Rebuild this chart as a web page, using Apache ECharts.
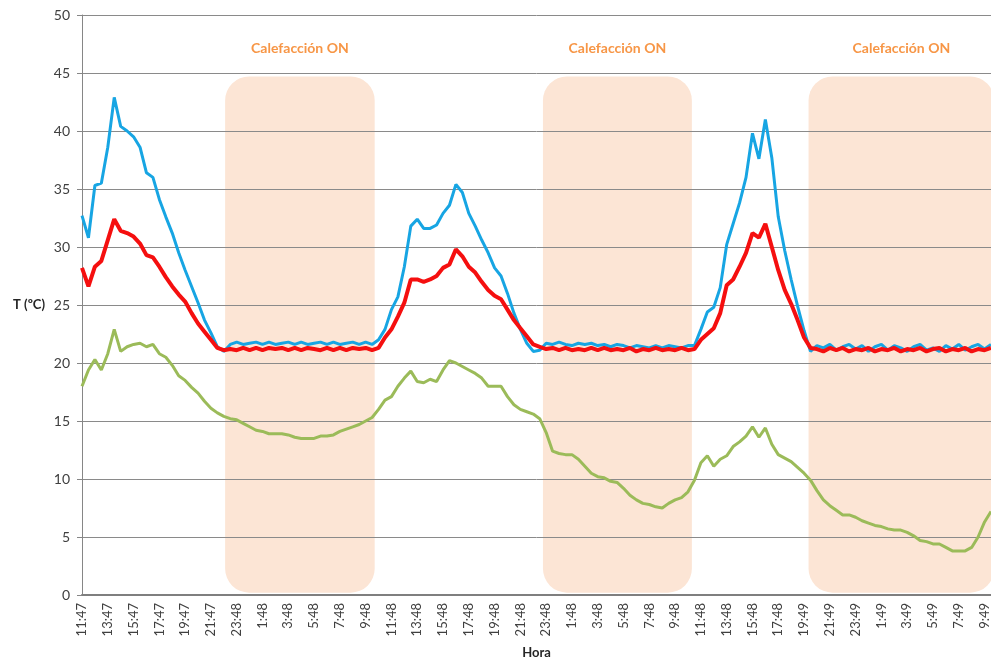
<!DOCTYPE html>
<html>
<head>
<meta charset="utf-8">
<script src="https://cdn.jsdelivr.net/npm/echarts@6/dist/echarts.min.js"></script>
<style>html,body{margin:0;padding:0;background:#fff}#c{width:991px;height:659px}</style>
</head>
<body>
<div id="c"></div>
<script>
// time step between samples (hours) — samples start at 11:47 on day 1
const STEP_H = 0.5;
const tickLabels = ["11:47","13:47","15:47","17:47","19:47","21:47","23:48","1:48","3:48","5:48","7:48","9:48",
  "11:48","13:48","15:48","17:48","19:48","21:48","23:48","1:48","3:48","5:48","7:48","9:48",
  "11:48","13:48","15:48","17:48","19:49","21:49","23:49","1:49","3:49","5:49","7:49","9:49"];

const blueValues = [
  32.7,30.8,35.3,35.5,38.6,42.9,40.4,40.0,39.5,38.6,36.4,36.0,34.1,32.6,31.2,29.5,28.0,26.6,25.2,23.7,22.6,21.4,21.0,
  21.6,21.8,21.6,21.7,21.8,21.6,21.8,21.6,21.7,21.8,21.6,21.8,21.6,21.7,21.8,21.6,21.8,21.6,21.7,21.8,21.6,21.8,21.6,
  22.0,22.9,24.6,25.7,28.3,31.8,32.4,31.6,31.6,31.9,32.9,33.6,35.4,34.7,32.9,31.8,30.6,29.5,28.2,27.5,26.0,24.3,22.9,21.7,21.0,21.1,
  21.7,21.6,21.8,21.6,21.5,21.7,21.6,21.7,21.5,21.6,21.4,21.6,21.5,21.3,21.5,21.4,21.3,21.5,21.3,21.5,21.4,21.3,21.5,21.5,
  22.9,24.4,24.8,26.5,30.2,32.0,33.8,36.0,39.8,37.6,41.0,37.7,32.6,29.7,27.2,24.9,22.8,21.0,
  21.5,21.3,21.6,21.1,21.4,21.6,21.2,21.5,21.0,21.4,21.6,21.1,21.5,21.3,21.0,21.4,21.6,21.1,21.3,21.0,21.5,21.2,21.6,21.1,21.4,21.6,21.2,21.6
];
const redValues = [
  28.2,26.6,28.3,28.8,30.6,32.4,31.4,31.2,30.9,30.3,29.3,29.1,28.3,27.4,26.6,25.9,25.3,24.3,23.4,22.7,22.0,21.3,21.1,
  21.2,21.1,21.3,21.1,21.3,21.1,21.3,21.2,21.3,21.1,21.3,21.1,21.3,21.2,21.1,21.3,21.1,21.3,21.1,21.3,21.2,21.3,21.1,
  21.3,22.2,22.9,24.0,25.2,27.2,27.2,27.0,27.2,27.5,28.2,28.5,29.8,29.2,28.3,27.8,27.0,26.3,25.8,25.5,24.6,23.7,23.0,22.3,21.6,21.4,
  21.2,21.3,21.1,21.3,21.1,21.2,21.1,21.3,21.1,21.3,21.1,21.2,21.1,21.3,21.0,21.2,21.1,21.3,21.1,21.2,21.1,21.3,21.1,21.2,
  22.0,22.5,23.0,24.3,26.7,27.2,28.3,29.5,31.2,30.8,32.0,30.0,28.0,26.3,25.1,23.7,22.2,21.3,
  21.2,21.0,21.3,21.1,21.3,21.0,21.2,21.1,21.3,21.0,21.2,21.1,21.3,21.0,21.2,21.1,21.3,21.0,21.2,21.3,21.0,21.2,21.1,21.3,21.0,21.2,21.1,21.3
];
const greenValues = [
  18.0,19.4,20.3,19.4,20.8,22.9,21.0,21.4,21.6,21.7,21.4,21.6,20.8,20.5,19.8,18.9,18.5,17.9,17.4,16.7,16.1,15.7,15.4,
  15.2,15.1,14.8,14.5,14.2,14.1,13.9,13.9,13.9,13.8,13.6,13.5,13.5,13.5,13.7,13.7,13.8,14.1,14.3,14.5,14.7,15.0,15.3,
  16.0,16.8,17.1,18.0,18.7,19.3,18.4,18.3,18.6,18.4,19.4,20.2,20.0,19.7,19.4,19.1,18.7,18.0,18.0,18.0,17.1,16.4,16.0,15.8,15.6,15.2,
  14.0,12.4,12.2,12.1,12.1,11.7,11.1,10.5,10.2,10.1,9.8,9.7,9.2,8.6,8.2,7.9,7.8,7.6,7.5,7.9,8.2,8.4,8.9,9.9,
  11.4,12.0,11.1,11.7,12.0,12.8,13.2,13.7,14.5,13.6,14.4,13.0,12.1,11.8,11.5,11.0,10.5,9.9,
  9.0,8.2,7.7,7.3,6.9,6.9,6.7,6.4,6.2,6.0,5.9,5.7,5.6,5.6,5.4,5.1,4.7,4.6,4.4,4.4,4.1,3.8,3.8,3.8,4.1,5.0,6.3,7.2
];
// heating periods (hours since start)
const heatStart = [11.1, 35.75, 56.35];
const heatEnd = [22.7, 47.3, 70.75];
const heatLabel = "Calefacción ON";
const yMin = 0, yMax = 50, yStep = 5;
const xMax = 70.5;

const toPairs = arr => arr.map((v, i) => [i * STEP_H, v]);
const heatData = heatStart.map((s, i) => [s, heatEnd[i]]);

const chart = echarts.init(document.getElementById('c'), null, {renderer: 'canvas'});
const FONT = 'Lato, "Open Sans", sans-serif';
chart.setOption({
  animation: false,
  grid: {left: 82, right: 0, top: 15, bottom: 64, containLabel: false, outerBoundsMode: 'none'},
  xAxis: {
    type: 'value', min: 0, max: xMax, interval: 2,
    name: 'Hora', nameLocation: 'middle', nameGap: 51,
    nameTextStyle: {fontFamily: FONT, fontWeight: 'bold', fontSize: 13, color: '#262626'},
    axisLine: {show: true, lineStyle: {color: '#7f7f7f', width: 2}},
    axisTick: {show: false},
    splitLine: {show: false},
    axisLabel: {
      rotate: 90, margin: 8, fontFamily: FONT, fontSize: 13, color: '#404040',
      showMaxLabel: false,
      formatter: val => {
        const i = Math.round(val / 2);
        return Math.abs(val - i * 2) < 1e-6 && tickLabels[i] ? tickLabels[i] : '';
      }
    }
  },
  yAxis: {
    type: 'value', min: yMin, max: yMax, interval: yStep,
    name: 'T (ºC)', nameLocation: 'middle', nameRotate: 0, nameGap: 37,
    nameTextStyle: {fontFamily: FONT, fontWeight: 'bold', fontSize: 13, color: '#262626'},
    axisLine: {show: true, lineStyle: {color: '#868686', width: 1}},
    axisTick: {show: true, length: 5, lineStyle: {color: '#868686'}},
    axisLabel: {margin: 12, fontFamily: FONT, fontSize: 14, color: '#404040'},
    splitLine: {show: true, lineStyle: {color: '#8a8a8a', width: 1}}
  },
  series: [
    {
      type: 'custom', z: -1, clip: true,
      data: heatData,
      encode: {x: [0, 1]},
      renderItem: (params, api) => {
        const p1 = api.coord([api.value(0), 44.7]);
        const p2 = api.coord([api.value(1), 0.2]);
        const tx = api.coord([(api.value(0) + api.value(1)) / 2, 47.1]);
        return {
          type: 'group',
          children: [
            {type: 'rect', shape: {x: p1[0], y: p1[1], width: p2[0] - p1[0], height: p2[1] - p1[1], r: 24},
             style: {fill: '#fce5d5'}},
            {type: 'text', x: tx[0], y: tx[1],
             style: {text: heatLabel, fill: '#f79646', font: 'bold 14px ' + FONT, align: 'center', verticalAlign: 'middle'}}
          ]
        };
      }
    },
    {type: 'line', data: toPairs(blueValues), showSymbol: false, lineStyle: {color: '#17a5e3', width: 3}, itemStyle: {color: '#17a5e3'}},
    {type: 'line', data: toPairs(redValues), showSymbol: false, lineStyle: {color: '#f50f0f', width: 4}, itemStyle: {color: '#f50f0f'}},
    {type: 'line', data: toPairs(greenValues), showSymbol: false, lineStyle: {color: '#9bbb59', width: 3}, itemStyle: {color: '#9bbb59'}}
  ]
});
</script>
</body>
</html>
